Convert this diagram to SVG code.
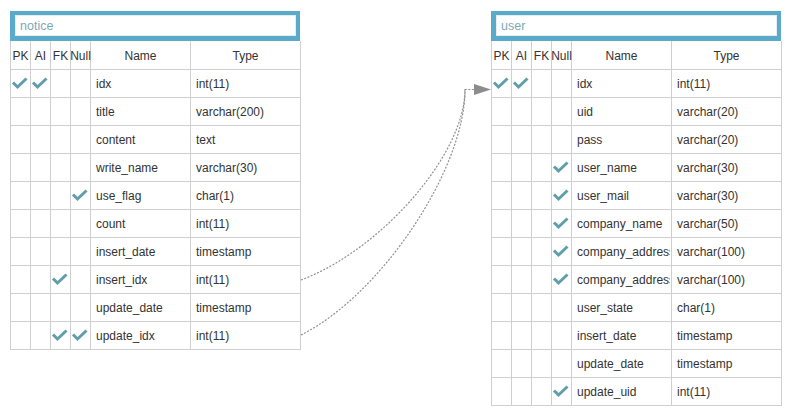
<svg xmlns="http://www.w3.org/2000/svg" xmlns:xlink="http://www.w3.org/1999/xlink" width="791" height="418" viewBox="0 0 791 418">
<style>
text{font-family:"Liberation Sans",Arial,sans-serif;font-size:12px;fill:#333}
.t{fill:#7fa7b5;font-size:12.5px}
.c{text-anchor:middle}
.grid{fill:none;stroke:#cfcfcf;stroke-width:1}
.hd{fill:#5aabca}
.in{fill:#fff;stroke:#e6eef2;stroke-width:1}
.ck{fill:none;stroke:#5f9eaa;stroke-width:3;stroke-linejoin:miter}
.con{fill:none;stroke:#8f8f8f;stroke-width:1.2;stroke-dasharray:2,1.5}
</style>
<defs>
<path id="ck" class="ck" d="M0,4.5 L4.5,9 L13.5,0.5"/>
<clipPath id="nameclipU"><rect x="571" y="60" width="99" height="350"/></clipPath>
</defs>
<rect width="791" height="418" fill="#fff"/>

<g id="notice">
<rect class="hd" x="10" y="11" width="290" height="30"/>
<rect class="in" x="15.5" y="15.5" width="280" height="20"/>
<text class="t" x="20" y="30">notice</text>
<path class="grid" d="M10.5,41V349 M30.5,41V349 M50.5,41V349 M70.5,41V349 M90.5,41V349 M190.5,41V349 M300.5,41V349 M10,69.5H301 M10,97.5H301 M10,125.5H301 M10,153.5H301 M10,181.5H301 M10,209.5H301 M10,237.5H301 M10,265.5H301 M10,293.5H301 M10,321.5H301 M10,349.5H301"/>
<text class="c" x="20.5" y="60">PK</text>
<text class="c" x="40.5" y="60">AI</text>
<text class="c" x="60.5" y="60">FK</text>
<text class="c" x="80.5" y="60">Null</text>
<text class="c" x="140.5" y="60">Name</text>
<text class="c" x="245.5" y="60">Type</text>
<text x="96" y="88">idx</text><text x="196" y="88">int(11)</text>
<text x="96" y="116">title</text><text x="196" y="116">varchar(200)</text>
<text x="96" y="144">content</text><text x="196" y="144">text</text>
<text x="96" y="172">write_name</text><text x="196" y="172">varchar(30)</text>
<text x="96" y="200">use_flag</text><text x="196" y="200">char(1)</text>
<text x="96" y="228">count</text><text x="196" y="228">int(11)</text>
<text x="96" y="256">insert_date</text><text x="196" y="256">timestamp</text>
<text x="96" y="284">insert_idx</text><text x="196" y="284">int(11)</text>
<text x="96" y="312">update_date</text><text x="196" y="312">timestamp</text>
<text x="96" y="340">update_idx</text><text x="196" y="340">int(11)</text>
<use xlink:href="#ck" x="13" y="78"/>
<use xlink:href="#ck" x="33" y="78"/>
<use xlink:href="#ck" x="73" y="190"/>
<use xlink:href="#ck" x="53" y="274"/>
<use xlink:href="#ck" x="53" y="330"/>
<use xlink:href="#ck" x="73" y="330"/>
</g>

<g id="user">
<rect class="hd" x="491" y="11" width="290" height="30"/>
<rect class="in" x="496.5" y="15.5" width="280" height="20"/>
<text class="t" x="501" y="30">user</text>
<path class="grid" d="M491.5,41V405 M511.5,41V405 M531.5,41V405 M551.5,41V405 M571.5,41V405 M671.5,41V405 M781.5,41V405 M491,69.5H782 M491,97.5H782 M491,125.5H782 M491,153.5H782 M491,181.5H782 M491,209.5H782 M491,237.5H782 M491,265.5H782 M491,293.5H782 M491,321.5H782 M491,349.5H782 M491,377.5H782 M491,405.5H782"/>
<text class="c" x="501.5" y="60">PK</text>
<text class="c" x="521.5" y="60">AI</text>
<text class="c" x="541.5" y="60">FK</text>
<text class="c" x="561.5" y="60">Null</text>
<text class="c" x="621.5" y="60">Name</text>
<text class="c" x="726.5" y="60">Type</text>
<g clip-path="url(#nameclipU)">
<text x="577" y="88">idx</text>
<text x="577" y="116">uid</text>
<text x="577" y="144">pass</text>
<text x="577" y="172">user_name</text>
<text x="577" y="200">user_mail</text>
<text x="577" y="228">company_name</text>
<text x="577" y="256">company_address</text>
<text x="577" y="284">company_address</text>
<text x="577" y="312">user_state</text>
<text x="577" y="340">insert_date</text>
<text x="577" y="368">update_date</text>
<text x="577" y="396">update_uid</text>
</g>
<text x="677" y="88">int(11)</text>
<text x="677" y="116">varchar(20)</text>
<text x="677" y="144">varchar(20)</text>
<text x="677" y="172">varchar(30)</text>
<text x="677" y="200">varchar(30)</text>
<text x="677" y="228">varchar(50)</text>
<text x="677" y="256">varchar(100)</text>
<text x="677" y="284">varchar(100)</text>
<text x="677" y="312">char(1)</text>
<text x="677" y="340">timestamp</text>
<text x="677" y="368">timestamp</text>
<text x="677" y="396">int(11)</text>
<use xlink:href="#ck" x="494" y="78"/>
<use xlink:href="#ck" x="514" y="78"/>
<use xlink:href="#ck" x="554" y="162"/>
<use xlink:href="#ck" x="554" y="190"/>
<use xlink:href="#ck" x="554" y="218"/>
<use xlink:href="#ck" x="554" y="246"/>
<use xlink:href="#ck" x="554" y="274"/>
<use xlink:href="#ck" x="554" y="386"/>
</g>

<g id="connectors">
<path class="con" d="M301,280 C381,250 465,154.5 465,89.5 L474,89.5"/>
<path class="con" d="M301,335 C381,295 465,169.5 465,89.5"/>
<polygon points="474,84 491,89.5 474,95" fill="#8c8c8c"/>
</g>
</svg>
